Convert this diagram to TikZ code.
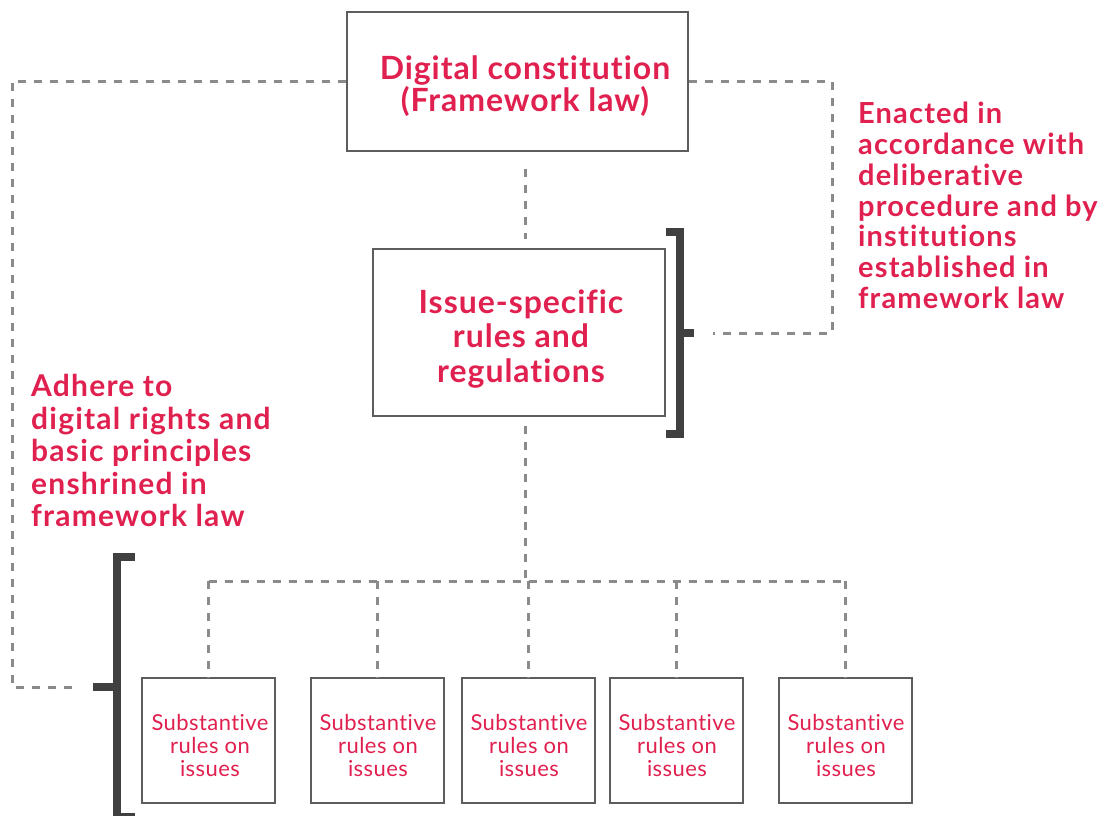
\documentclass[tikz,border=0pt]{standalone}
\usepackage{fontspec}
\setmainfont{Lato}[Ligatures=NoCommon]
\usepackage{tikz}
\usetikzlibrary{calc,positioning}
\definecolor{rosered}{HTML}{E0204F}
\definecolor{linegray}{HTML}{8A8A8A}
\definecolor{brackgray}{HTML}{404040}
\tikzset{%
	lawbox/.style   = {draw=brackgray!85, line width=1.2pt, rectangle},
	lawtext/.style  = {text=rosered, align=center, inner sep=0pt, font=\fontsize{32}{32}\selectfont\bfseries\addfontfeatures{LetterSpace=3}},
	issuebox/.style = {draw=brackgray!85, line width=1.2pt, rectangle, minimum width=133pt, minimum height=125pt},
	issuetext/.style = {text=rosered, align=center, inner sep=0pt, font=\fontsize{22}{23}\selectfont\addfontfeatures{LetterSpace=2}},
	note/.style     = {text=rosered, align=left, inner sep=0pt, anchor=north west, font=\fontsize{29}{30.8}\selectfont\bfseries\addfontfeatures{LetterSpace=4}},
	dashline/.style = {draw=linegray, line width=3pt, dash pattern=on 8pt off 8pt},
	brack/.style    = {draw=brackgray, line width=8pt},
}

\begin{document}
\begin{tikzpicture}[x=1pt,y=-1pt]
	\useasboundingbox (0,0) rectangle (1104,816);
	% framework law and the rules below it
	\node[lawbox, minimum width=341pt, minimum height=139pt] (top) at (517.5,81.5) {};
	\node[lawtext] (toptxt) at (525,86) {Digital constitution\\(Framework law)};
	\node[lawbox, minimum width=292pt, minimum height=167pt] (mid) at (519,332.5) {};
	\node[lawtext, font=\fontsize{32}{34.2}\selectfont\bfseries\addfontfeatures{LetterSpace=3}] (midtxt) at (521,339) {Issue-specific\\rules and\\regulations};
	
	\node[issuebox] (sub1) at (208.5,740.5) {};
	\node[issuebox] (sub2) at (377.5,740.5) {};
	\node[issuebox] (sub3) at (528.5,740.5) {};
	\node[issuebox] (sub4) at (676.5,740.5) {};
	\node[issuebox] (sub5) at (845.5,740.5) {};
	\node[issuetext] (sub1txt) at (210,745) {Substantive\\rules on\\issues};
	\node[issuetext] (sub2txt) at (378,745) {Substantive\\rules on\\issues};
	\node[issuetext] (sub3txt) at (529,745) {Substantive\\rules on\\issues};
	\node[issuetext] (sub4txt) at (677,745) {Substantive\\rules on\\issues};
	\node[issuetext] (sub5txt) at (846,745) {Substantive\\rules on\\issues};
	
	% side notes
	\node[note] (enact) at (858,102) {Enacted in\\accordance with\\deliberative\\procedure and by\\institutions\\established in\\framework law};
	\node[note, font=\fontsize{30}{32.6}\selectfont\bfseries\addfontfeatures{LetterSpace=4}] (adhere) at (31,374) {Adhere to\\digital rights and\\basic principles\\enshrined in\\framework law};
	
	% dashed links
	\coordinate (bus) at (525,581);
	\coordinate (lend) at (72,687);
	\coordinate (rend) at (713,333);
	\draw[dashline] ([xshift=7.5pt,yshift=-17pt]top.south) -- ([xshift=6pt,yshift=9pt]mid.north);
	\draw[dashline] ([xshift=6pt,yshift=-9pt]mid.south) -- (bus);
	\draw[dashline] (sub1.north |- bus) -- (sub5.north |- bus);
	\draw[dashline] (sub1.north |- bus) -- (sub1.north);
	\draw[dashline] (sub2.north |- bus) -- (sub2.north);
	\draw[dashline] (sub3.north |- bus) -- (sub3.north);
	\draw[dashline] (sub4.north |- bus) -- (sub4.north);
	\draw[dashline] (sub5.north |- bus) -- (sub5.north);
	\draw[dashline] (top.west) -| (12,687) -- (lend);
	\draw[dashline] (top.east) -| (832,333) -- (rend);
	
	% brackets
	\draw[brack] (666,232) -| (680,434) -- (666,434);
	\draw[brack] (680,333) -- (694,333);
	\draw[brack] (135,557) -| (117,817) -- (135,817);
	\draw[brack] (117,687) -- (93,687);
\end{tikzpicture}
\end{document}
